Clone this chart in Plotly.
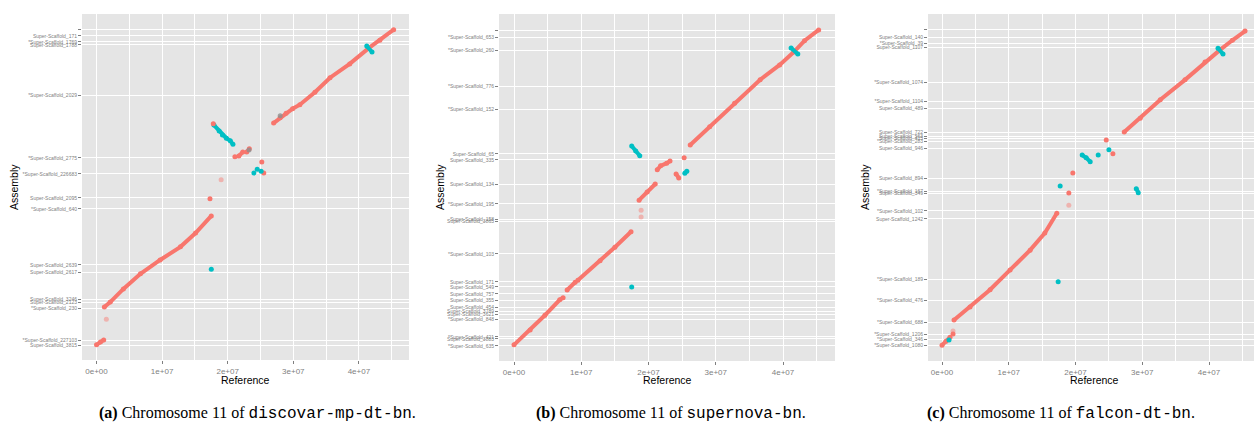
import plotly.graph_objects as go

SALMON = "#F8766D"
TEAL = "#00BFC4"
GREY_TXT = "#7F7F7F"
FONT = "Liberation Sans"

# ---------------- shared x axis (reference position, Mb) ----------------
X_TICKS = [0, 10, 20, 30, 40]
X_TICK_TEXT = ["0e+00", "1e+07", "2e+07", "3e+07", "4e+07"]
X_MINOR = [5, 15, 25, 35, 45]

# ---------------- panel (a) discovar-mp-dt-bn ----------------
A_TICK_Y = [48.0, 46.94, 46.03, 45.57, 37.97, 28.40, 25.97, 22.32, 20.65,
            12.14, 11.07, 6.97, 6.51, 5.60, 0.74, -0.02]
A_TICK_TEXT = ["", "Super-Scaffold_171", "*Super-Scaffold_1769", "Super-Scaffold_1788",
               "*Super-Scaffold_2029", "*Super-Scaffold_2775", "*Super-Scaffold_226683",
               "Super-Scaffold_2095", "*Super-Scaffold_640", "Super-Scaffold_2639",
               "Super-Scaffold_2617", "Super-Scaffold_3246", "Super-Scaffold_2123",
               "*Super-Scaffold_230", "*Super-Scaffold_227103", "Super-Scaffold_3815"]
A_SALMON_SEGS = [
    ([0.0, 0.6, 1.1], [0.0, 0.45, 0.75]),
    ([1.2, 2.1, 4.1, 6.7, 9.7, 12.8, 15.1, 17.5], [5.75, 6.5, 8.5, 10.8, 12.9, 14.9, 17.0, 19.6]),
    ([21.7, 22.3], [28.7, 29.3]),
    ([22.9, 23.3], [29.3, 29.8]),
    ([27.0, 28.0, 28.9, 29.9, 31.0, 33.3, 35.6, 38.6, 41.5, 43.2, 45.3],
     [33.7, 34.5, 35.2, 35.9, 36.5, 38.4, 40.6, 42.7, 45.1, 46.3, 47.9]),
]
A_TEAL_SEGS = [
    ([17.9, 18.7, 19.2, 19.8, 20.4, 20.8], [33.4, 32.5, 31.9, 31.4, 31.0, 30.5]),
    ([41.2, 42.0], [45.4, 44.5]),
]
A_SALMON_X = [17.3, 17.8, 21.1, 25.2, 25.5]
A_SALMON_Y = [22.2, 33.6, 28.6, 27.8, 26.1]
A_TEAL_X = [17.5, 24.0, 24.5, 25.1]
A_TEAL_Y = [11.5, 26.1, 26.7, 26.4]
A_FAINT_X = [1.5, 19.0]
A_FAINT_Y = [3.9, 25.1]
A_GREY_X = [23.25, 28.0]
A_GREY_Y = [29.6, 34.8]

# ---------------- panel (b) supernova-bn ----------------
B_TICK_Y = [46.88, 45.84, 43.91, 38.56, 35.14, 28.46, 27.57, 24.0, 21.03, 18.80, 18.50,
            13.60, 9.44, 8.70, 7.66, 6.76, 5.72, 5.13, 4.68, 3.94, 1.27, 0.97, -0.07]
B_TICK_TEXT = ["", "*Super-Scaffold_653", "*Super-Scaffold_260", "*Super-Scaffold_776",
               "*Super-Scaffold_152", "Super-Scaffold_65", "Super-Scaffold_335",
               "Super-Scaffold_134", "*Super-Scaffold_195", "Super-Scaffold_158",
               "Super-Scaffold_3865", "*Super-Scaffold_103", "Super-Scaffold_171",
               "Super-Scaffold_549", "Super-Scaffold_757", "Super-Scaffold_355",
               "Super-Scaffold_454", "Super-Scaffold_3789", "Super-Scaffold_3621",
               "*Super-Scaffold_848", "*Super-Scaffold_421", "Super-Scaffold_3883",
               "*Super-Scaffold_635"]
B_SALMON_SEGS = [
    ([0.0, 2.4, 4.6, 6.8, 7.3], [0.1, 2.3, 4.5, 6.8, 7.1]),
    ([7.9, 9.1], [8.25, 9.4]),
    ([9.5, 12.8, 15.0, 17.4], [9.7, 12.6, 14.6, 16.9]),
    ([18.6, 19.8, 21.0], [21.6, 22.8, 24.0]),
    ([21.3, 21.8, 22.7, 23.2], [26.1, 26.7, 27.1, 27.4]),
    ([24.1, 24.5], [25.5, 24.9]),
    ([26.2, 29.1, 32.8, 36.6, 39.5, 41.6, 43.2, 45.3], [29.8, 32.5, 36.0, 39.5, 41.7, 43.6, 45.3, 46.9]),
]
B_TEAL_SEGS = [
    ([17.5, 18.1, 18.7], [29.65, 28.9, 28.2]),
    ([25.4, 25.7], [25.6, 25.9]),
    ([41.2, 42.2], [44.2, 43.3]),
]
B_SALMON_X = [25.3]
B_SALMON_Y = [27.9]
B_TEAL_X = [17.5]
B_TEAL_Y = [8.7]
B_FAINT_X = [18.9, 18.9]
B_FAINT_Y = [20.1, 19.1]

# ---------------- panel (c) falcon-dt-bn ----------------
C_TICK_Y = [48.0, 46.79, 45.88, 45.28, 39.97, 37.09, 36.03, 32.40, 31.79, 31.49, 31.03,
            29.97, 25.43, 23.46, 23.15, 20.43, 19.22, 10.12, 6.94, 3.61, 1.79, 1.03, 0.12]
C_TICK_TEXT = ["", "Super-Scaffold_140", "*Super-Scaffold_39", "Super-Scaffold_1107",
               "*Super-Scaffold_1074", "*Super-Scaffold_1104", "Super-Scaffold_489",
               "Super-Scaffold_722", "Super-Scaffold_563", "Super-Scaffold_415",
               "*Super-Scaffold_283", "Super-Scaffold_946", "Super-Scaffold_894",
               "*Super-Scaffold_167", "Super-Scaffold_349", "*Super-Scaffold_102",
               "Super-Scaffold_1242", "*Super-Scaffold_189", "*Super-Scaffold_476",
               "*Super-Scaffold_688", "*Super-Scaffold_1206", "*Super-Scaffold_346",
               "*Super-Scaffold_1080"]
C_SALMON_SEGS = [
    ([0.0, 0.6, 1.2], [0.1, 0.7, 1.3]),
    ([1.8, 4.2, 7.2, 10.2, 13.2, 15.4, 17.2], [3.9, 5.9, 8.5, 11.5, 14.5, 17.1, 20.1]),
    ([27.3, 29.7, 32.7, 36.4, 39.4, 41.6, 43.5, 45.4], [32.4, 34.5, 37.3, 40.3, 43.0, 44.8, 46.3, 47.7]),
]
C_TEAL_SEGS = [
    ([21.0, 21.6, 22.2], [28.9, 28.5, 27.9]),
    ([29.1, 29.4], [23.8, 23.2]),
    ([41.35, 42.1], [45.1, 44.2]),
]
C_SALMON_X = [1.65, 19.0, 19.6, 24.6, 25.6]
C_SALMON_Y = [1.8, 23.15, 26.2, 31.2, 29.1]
C_TEAL_X = [1.05, 17.4, 17.7, 23.4, 25.0]
C_TEAL_Y = [0.9, 9.7, 24.2, 28.9, 29.7]
C_FAINT_X = [1.65, 19.0]
C_FAINT_Y = [2.25, 21.3]

PANELS = [
    dict(ax="", segs_s=A_SALMON_SEGS, segs_t=A_TEAL_SEGS, ps=(A_SALMON_X, A_SALMON_Y),
         pt=(A_TEAL_X, A_TEAL_Y), pf=(A_FAINT_X, A_FAINT_Y), pg=(A_GREY_X, A_GREY_Y),
         ticks=(A_TICK_Y, A_TICK_TEXT),
         xdom=[82 / 1254, 409 / 1254], ydom=[1 - 360 / 428, 1 - 14 / 428],
         xr=[-2.21, 47.64], yr=[-2.3, 50.28]),
    dict(ax="2", segs_s=B_SALMON_SEGS, segs_t=B_TEAL_SEGS, ps=(B_SALMON_X, B_SALMON_Y),
         pt=(B_TEAL_X, B_TEAL_Y), pf=(B_FAINT_X, B_FAINT_Y), pg=([], []),
         ticks=(B_TICK_Y, B_TICK_TEXT),
         xdom=[499 / 1254, 835 / 1254], ydom=[1 - 361 / 428, 1 - 14 / 428],
         xr=[-2.23, 47.73], yr=[-2.3, 49.26]),
    dict(ax="3", segs_s=C_SALMON_SEGS, segs_t=C_TEAL_SEGS, ps=(C_SALMON_X, C_SALMON_Y),
         pt=(C_TEAL_X, C_TEAL_Y), pf=(C_FAINT_X, C_FAINT_Y), pg=([], []),
         ticks=(C_TICK_Y, C_TICK_TEXT),
         xdom=[928 / 1254, 1.0], ydom=[1 - 361 / 428, 1 - 14 / 428],
         xr=[-2.10, 46.74], yr=[-2.3, 50.28]),
]

fig = go.Figure()
layout_axes = {}
for p in PANELS:
    xa, ya = "x" + p["ax"], "y" + p["ax"]
    for color, segs in ((SALMON, p["segs_s"]), (TEAL, p["segs_t"])):
        for xs, ys in segs:
            fig.add_trace(go.Scatter(x=xs, y=ys, mode="lines+markers", xaxis=xa, yaxis=ya,
                                     line=dict(color=color, width=4),
                                     marker=dict(size=5, color=color), showlegend=False,
                                     hoverinfo="skip"))
    for (xs, ys), color, op in ((p["ps"], SALMON, 1.0), (p["pt"], TEAL, 1.0),
                                (p["pf"], SALMON, 0.45), (p["pg"], "#8f8f8f", 0.8)):
        if xs:
            fig.add_trace(go.Scatter(x=xs, y=ys, mode="markers", xaxis=xa, yaxis=ya,
                                     marker=dict(size=5, color=color, opacity=op),
                                     showlegend=False, hoverinfo="skip"))
    layout_axes["xaxis" + p["ax"]] = dict(
        domain=p["xdom"], range=p["xr"], anchor=ya, tickmode="array",
        tickvals=X_TICKS, ticktext=X_TICK_TEXT, showgrid=True, gridcolor="white",
        gridwidth=1.1, zeroline=False, showline=False, ticks="outside", ticklen=3,
        tickwidth=1, tickcolor=GREY_TXT, automargin=False, fixedrange=True,
        tickfont=dict(family=FONT, size=8, color=GREY_TXT),
        minor=dict(tickmode="array", tickvals=X_MINOR, showgrid=True, gridcolor="white",
                   gridwidth=0.6, ticks=""))
    layout_axes["yaxis" + p["ax"]] = dict(
        domain=p["ydom"], range=p["yr"], anchor=xa, tickmode="array",
        tickvals=p["ticks"][0], ticktext=p["ticks"][1], showgrid=True, gridcolor="white",
        gridwidth=1.0, zeroline=False, showline=False, ticks="outside", ticklen=3,
        tickwidth=1, tickcolor=GREY_TXT, automargin=False, fixedrange=True,
        tickfont=dict(family=FONT, size=5, color=GREY_TXT))

ann = []
for xc in (245.5, 667, 1094):
    ann.append(dict(x=xc / 1254, y=1 - 380 / 428, xref="paper", yref="paper",
                    xanchor="center", yanchor="middle",
                    text="Reference", showarrow=False,
                    font=dict(family=FONT, size=10.5, color="black")))
for xc in (14, 440, 865):
    ann.append(dict(x=xc / 1254, y=1 - 187 / 428, xref="paper", yref="paper",
                    xanchor="center", yanchor="middle",
                    text="Assembly", textangle=-90, showarrow=False,
                    font=dict(family=FONT, size=10.5, color="black")))
CAPTIONS = [("(a)", "discovar-mp-dt-bn", 257), ("(b)", "supernova-bn", 671),
            ("(c)", "falcon-dt-bn", 1061)]
for lab, name, xc in CAPTIONS:
    ann.append(dict(x=xc / 1254, y=1 - 413 / 428, xref="paper", yref="paper",
                    xanchor="center", yanchor="middle",
                    text=f"<b>{lab}</b> Chromosome 11 of "
                         f"<span style='font-family:Liberation Mono'>{name}</span>.",
                    showarrow=False,
                    font=dict(family="Liberation Serif", size=16, color="black")))

fig.update_layout(width=1254, height=428, margin=dict(l=0, r=0, t=0, b=0),
                  paper_bgcolor="white", plot_bgcolor="#E5E5E5",
                  annotations=ann, showlegend=False, **layout_axes)
fig.write_html("out.html", config={"displayModeBar": False},
               post_script="document.documentElement.style.margin='0';"
                           "document.body.style.margin='0';"
                           "document.body.style.overflow='hidden';")
